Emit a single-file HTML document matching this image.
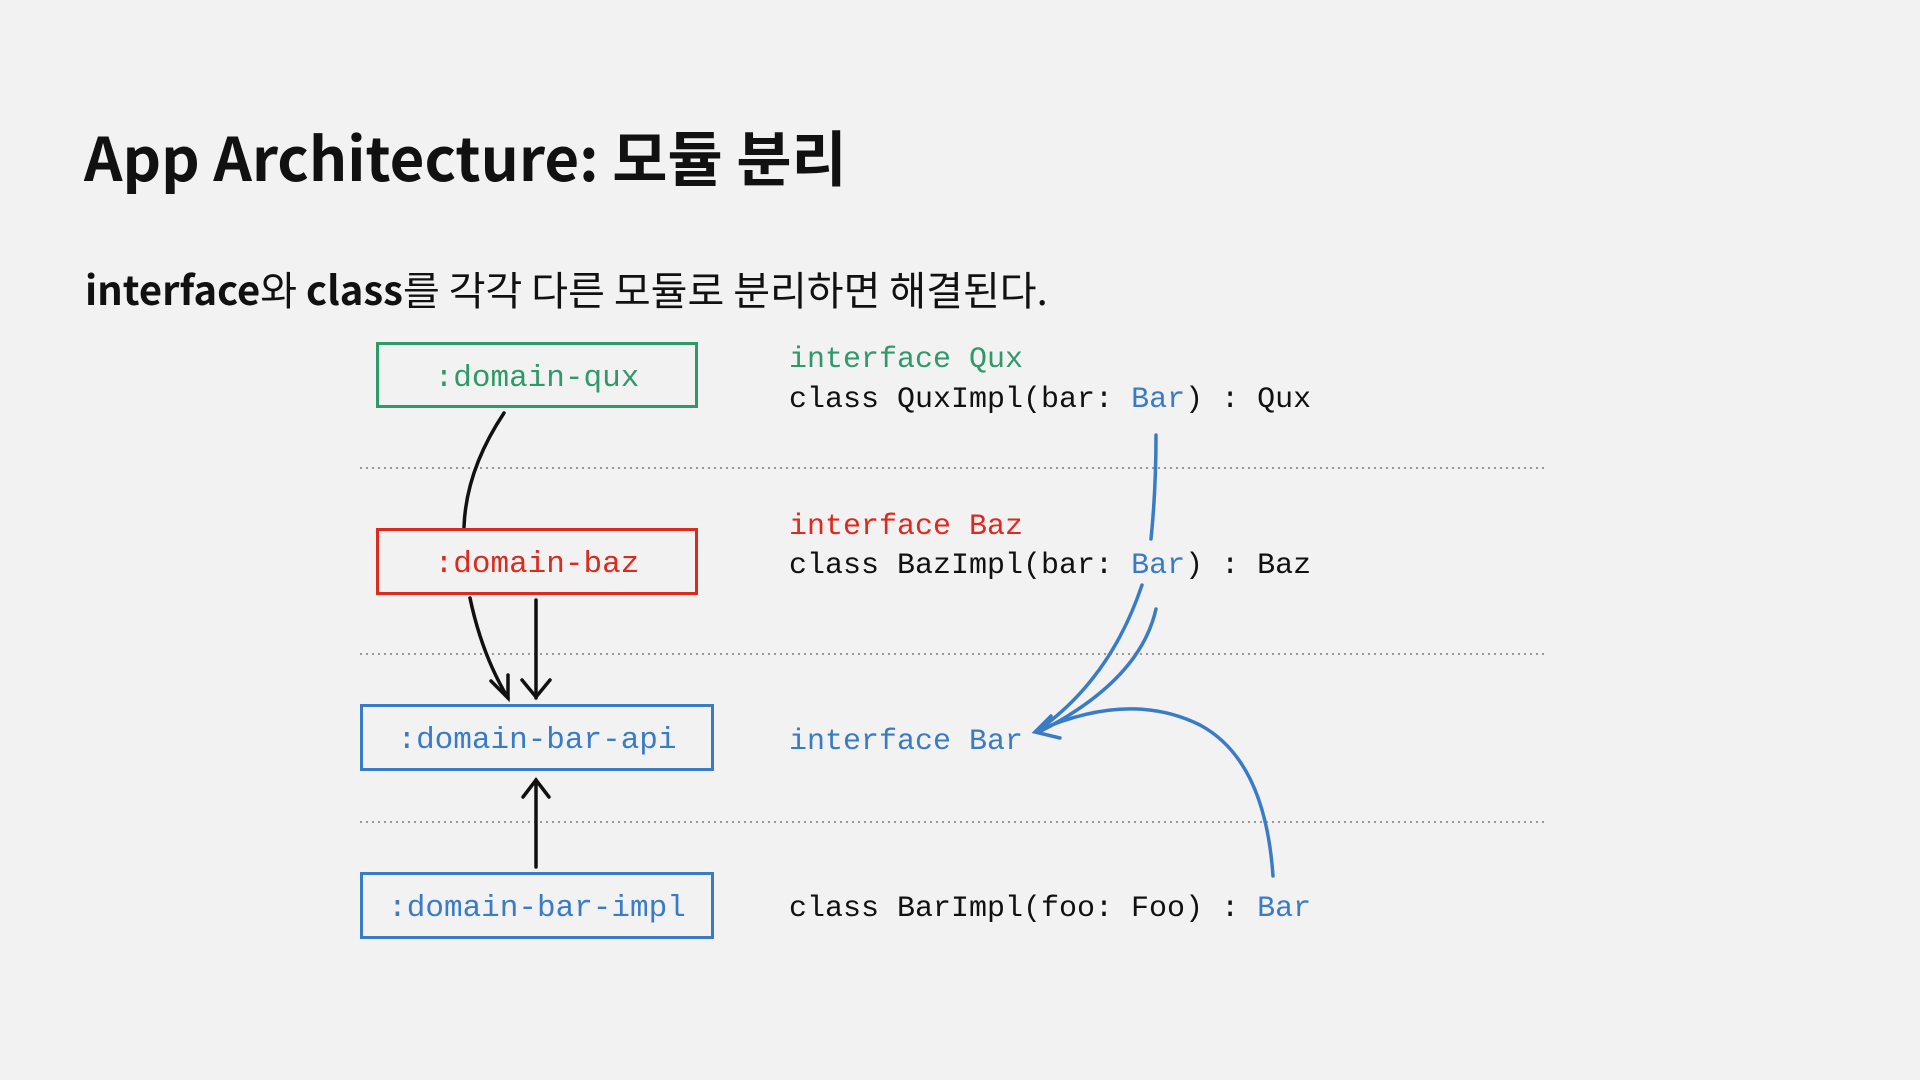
<!DOCTYPE html>
<html><head><meta charset="utf-8"><style>
body{margin:0;width:1920px;height:1080px;background:#f2f2f2;position:relative;overflow:hidden;font-family:"Noto Sans CJK KR","Liberation Sans",sans-serif;}
.t{position:absolute;white-space:nowrap;}
.m{font-family:"Liberation Mono","DejaVu Sans Mono",monospace;font-size:30px;color:#111;line-height:36px;}
.g{color:#2e9a6a}.r{color:#dc2a1e}.b{color:#3a7bc8}
.box{position:absolute;box-sizing:border-box;border:3px solid;display:flex;align-items:center;justify-content:center;font-family:"Liberation Mono",monospace;font-size:31px;padding-top:6px;}
</style></head><body>
<div class="t" style="left:84px;top:112px;font-size:60px;font-weight:700;color:#111;">App Architecture: 모듈 분리</div>
<div class="t" style="left:85px;top:259px;font-size:40px;color:#111;"><b>interface</b>와 <b>class</b>를 각각 다른 모듈로 분리하면 해결된다.</div>

<svg width="1920" height="1080" style="position:absolute;left:0;top:0">
<g stroke="#999" stroke-width="2" stroke-dasharray="2,4">
<line x1="360" y1="468" x2="1545" y2="468"/>
<line x1="360" y1="654" x2="1545" y2="654"/>
<line x1="360" y1="822" x2="1545" y2="822"/>
</g>
<g fill="none" stroke="#111" stroke-width="3.5" stroke-linecap="round">
<path d="M504 413 Q466 470 464 527"/>
<path d="M470 598 Q482 655 508 698"/>
<path d="M491 681 L508 698 L508 675"/>
<path d="M536 600 L536 698"/>
<path d="M522 680 L536 697 L550 680"/>
<path d="M536 867 L536 780"/>
<path d="M523 797 L536 780 L549 797"/>
</g>
<g fill="none" stroke="#3a7bc8" stroke-width="3.5" stroke-linecap="round">
<path d="M1156 435 Q1156 490 1151 539"/>
<path d="M1142 585 Q1110 680 1037 731"/>
<path d="M1156 609 Q1140 680 1041 731"/>
<path d="M1273 876 Q1265 760 1200 725 Q1130 690 1037 731"/>
<path d="M1051 716 L1035 732 L1060 738"/>
</g>
</svg>

<div class="box" style="left:376px;top:342px;width:322px;height:66px;border-color:#2e9a6a;color:#2e9a6a;">:domain-qux</div>
<div class="box" style="left:376px;top:528px;width:322px;height:67px;border-color:#dc2a1e;color:#dc2a1e;">:domain-baz</div>
<div class="box" style="left:360px;top:704px;width:354px;height:67px;border-color:#3a7bc8;color:#3a7bc8;">:domain-bar-api</div>
<div class="box" style="left:360px;top:872px;width:354px;height:67px;border-color:#3a7bc8;color:#3a7bc8;">:domain-bar-impl</div>

<div class="t m g" style="left:789px;top:342px;">interface Qux</div>
<div class="t m" style="left:789px;top:382px;">class QuxImpl(bar: <span class="b">Bar</span>) : Qux</div>
<div class="t m r" style="left:789px;top:509px;">interface Baz</div>
<div class="t m" style="left:789px;top:548px;">class BazImpl(bar: <span class="b">Bar</span>) : Baz</div>
<div class="t m b" style="left:789px;top:724px;">interface Bar</div>
<div class="t m" style="left:789px;top:891px;">class BarImpl(foo: Foo) : <span class="b">Bar</span></div>
</body></html>
